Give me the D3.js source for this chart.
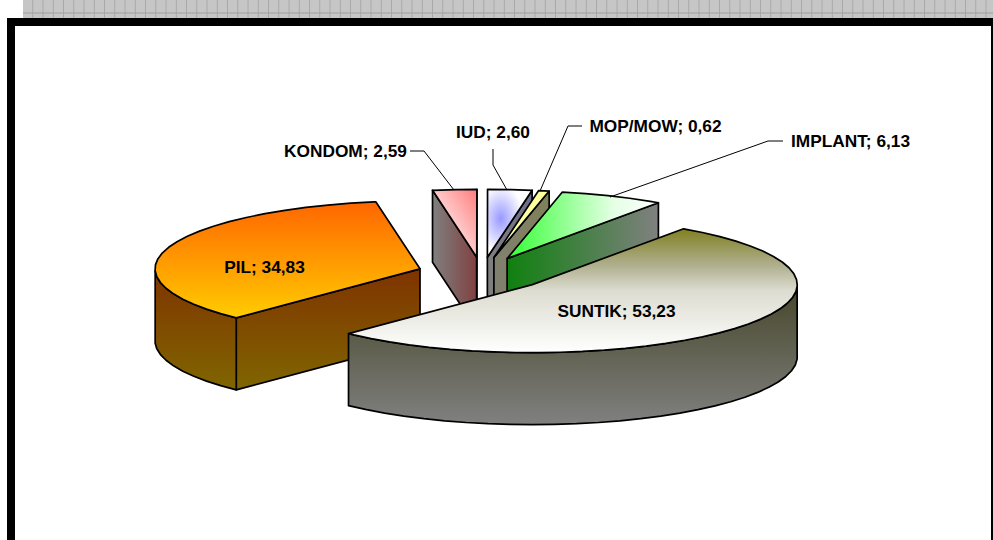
<!DOCTYPE html>
<html>
<head>
<meta charset="utf-8">
<script src="https://cdn.jsdelivr.net/npm/d3@7"></script>
<style>
    body { margin: 0; background: #fff; }
    svg { display: block; }
    text { font-family: "Liberation Sans", Arial, sans-serif; font-weight: bold; font-size: 17.3px; fill: #000; }
</style>
</head>
<body>
<svg id="chart" width="993" height="540"></svg>
<script>
// data
const categories = ['SUNTIK', 'PIL', 'KONDOM', 'IUD', 'MOP/MOW', 'IMPLANT'];
const values = [53.23, 34.83, 2.59, 2.60, 0.62, 6.13];

// label placement and leaders, same order as categories
const labelX = [616.5, 264.5, 345.5, 493, 655.5, 850.5];
const labelY = [317, 273, 157, 138, 132, 147];
const leaders = [
    null,
    null,
    [[410, 151], [424, 151], [454, 190]],
    [[493, 149], [493, 165], [507, 190]],
    [[582, 126], [568, 126], [540, 191]],
    [[783, 141], [768, 141], [610, 197]]
];

// top gradient, then side gradient, for every slice
const topFills = [
    { x1: 0, y1: 0, x2: 0, y2: 1, stops: [[0, '#808020'], [0.3, '#b0b090'], [0.5, '#dcdcd0'], [1, '#ffffff']] },
    { x1: 0, y1: 0, x2: 0, y2: 1, stops: [[0, '#ff6600'], [1, '#ffcc00']] },
    { x1: 1, y1: 0, x2: 0, y2: 1, stops: [[0, '#ff7d7d'], [0.85, '#ffffff']] },
    { radial: true, cx: 0.3, cy: 0.43, r: 0.5, stops: [[0, '#9999ff'], [1, '#ffffff']] },
    { x1: 1, y1: 0, x2: 0, y2: 1, stops: [[0, '#ffff99'], [0.6, '#ffffa8'], [1, '#ffffff']] },
    { x1: 0, y1: 0, x2: 1, y2: 0, stops: [[0, '#33ff33'], [0.7, '#e4ffe4'], [1, '#ffffff']] }
];
const sideFills = [
    { vertical: true, from: '#47472b', to: '#808080' },
    { vertical: true, from: '#7f3300', to: '#7f6600' },
    { vertical: false, from: '#808080', to: '#804040' },
    { vertical: false, from: '#808080', to: '#6c6c8c' },
    { vertical: false, from: '#808070', to: '#80805a' },
    { vertical: false, from: '#0f800f', to: '#808080' }
];

// pie geometry
const width = 993;
const height = 540;
const cx = 482, cy = 274;
const rx = 265, ry = 68;
const depth = 72;
const explode = 0.246;
const startDeg = 33.7;
const rimStep = 5 * Math.PI / 180;
// the 3D view squeezes the angles a little towards the sides
const squeeze = 2 * Math.PI / 180;

const svg = d3.select('#chart');
const defs = svg.append('defs');

// frame and the grey strip on top
const strip = defs.append('pattern')
    .attr('id', 'strip')
    .attr('patternUnits', 'userSpaceOnUse')
    .attr('x', 23).attr('y', 0)
    .attr('width', 10.25).attr('height', 18);
strip.append('rect').attr('width', 10.25).attr('height', 18).attr('fill', '#c6c6c6');
strip.append('rect').attr('x', 9.5).attr('width', 1).attr('height', 18).attr('fill', '#a0a0a0');
strip.append('rect').attr('y', 12.5).attr('width', 10.25).attr('height', 1).attr('fill', '#a0a0a0');

svg.append('rect').attr('x', 23).attr('y', 0).attr('width', width - 23).attr('height', 18).attr('fill', 'url(#strip)');
svg.append('rect').attr('x', 7).attr('y', 18).attr('width', width - 7).attr('height', 8).attr('fill', '#000');
svg.append('rect').attr('x', 7).attr('y', 18).attr('width', 8).attr('height', height - 18).attr('fill', '#000');
svg.append('rect').attr('x', 991).attr('y', 18).attr('width', 2).attr('height', height - 18).attr('fill', '#000');

const xScale = d3.scaleLinear().domain([-1, 1]).range([cx - rx, cx + rx]);
const yScale = d3.scaleLinear().domain([-1, 1]).range([cy + ry, cy - ry]);

const start = startDeg * Math.PI / 180;
const pie = d3.pie()
    .sort(null)
    .startAngle(start)
    .endAngle(start + 2 * Math.PI);

const slices = pie(values).map((d, i) => {
    const mid = (d.startAngle + d.endAngle) / 2;
    return {
        index: i,
        a0: d.startAngle,
        a1: d.endAngle,
        mid: mid,
        ox: explode * Math.sin(mid),
        oy: explode * Math.cos(mid)
    };
});

function point(s, angle, radius, drop) {
    const seen = angle + squeeze * Math.sin(angle);
    return [
        xScale(s.ox + radius * Math.sin(seen)),
        yScale(s.oy + radius * Math.cos(seen)) + drop
    ];
}

function rimAngles(a0, a1) {
    const out = d3.range(a0, a1, rimStep);
    out.push(a1);
    return out;
}

const line = d3.line().curve(d3.curveLinearClosed);

function addTopGradient(s) {
    const f = topFills[s.index];
    const grad = f.radial
        ? defs.append('radialGradient').attr('cx', f.cx).attr('cy', f.cy).attr('r', f.r)
        : defs.append('linearGradient').attr('x1', f.x1).attr('y1', f.y1).attr('x2', f.x2).attr('y2', f.y2);
    grad.attr('id', 'top' + s.index);
    f.stops.forEach(st => grad.append('stop').attr('offset', st[0]).attr('stop-color', st[1]));
}

function addSideGradient(s, polys) {
    const f = sideFills[s.index];
    const pts = polys.flat();
    const xs = d3.extent(pts, p => p[0]);
    const ys = d3.extent(pts, p => p[1]);
    const grad = defs.append('linearGradient')
        .attr('id', 'side' + s.index)
        .attr('gradientUnits', 'userSpaceOnUse')
        .attr('x1', xs[0]).attr('y1', ys[0])
        .attr('x2', f.vertical ? xs[0] : xs[1])
        .attr('y2', f.vertical ? ys[1] : ys[0]);
    grad.append('stop').attr('offset', 0).attr('stop-color', f.from);
    grad.append('stop').attr('offset', 1).attr('stop-color', f.to);
}

// back slices first, the front ones paint over them
const drawOrder = slices.slice().sort((a, b) => b.oy - a.oy);

drawOrder.forEach(s => {
    const g = svg.append('g');
    const polys = [];

    // cut faces, only those turned towards the viewer
    [[s.a0, -1], [s.a1, 1]].forEach(([a, side]) => {
        const facesFront = side * Math.sin(a) > 0;
        if (facesFront) {
            polys.push([
                point(s, a, 0, 0), point(s, a, 1, 0),
                point(s, a, 1, depth), point(s, a, 0, depth)
            ]);
        }
    });

    // outer wall, the part of the rim on the near half
    const wa0 = Math.max(s.a0, Math.PI / 2);
    const wa1 = Math.min(s.a1, 3 * Math.PI / 2);
    if (wa1 > wa0) {
        const angles = rimAngles(wa0, wa1);
        polys.push(
            angles.map(a => point(s, a, 1, 0))
                .concat(angles.slice().reverse().map(a => point(s, a, 1, depth)))
        );
    }

    addSideGradient(s, polys);
    addTopGradient(s);

    polys.forEach(p => {
        g.append('path')
            .attr('d', line(p))
            .attr('fill', `url(#side${s.index})`)
            .attr('stroke', '#000')
            .attr('stroke-width', 1.7)
            .attr('stroke-linejoin', 'round');
    });

    const topPoly = [point(s, 0, 0, 0)].concat(rimAngles(s.a0, s.a1).map(a => point(s, a, 1, 0)));
    g.append('path')
        .attr('d', line(topPoly))
        .attr('fill', `url(#top${s.index})`)
        .attr('stroke', '#000')
        .attr('stroke-width', 1.7)
        .attr('stroke-linejoin', 'round');
});

// leaders
const leaderLine = d3.line();
leaders.forEach(l => {
    if (l) {
        svg.append('path')
            .attr('d', leaderLine(l))
            .attr('fill', 'none')
            .attr('stroke', '#000')
            .attr('stroke-width', 1);
    }
});

// labels like "PIL; 34,83"
svg.selectAll('text.label')
    .data(categories)
    .enter()
    .append('text')
    .attr('class', 'label')
    .attr('x', (_, i) => labelX[i])
    .attr('y', (_, i) => labelY[i])
    .attr('text-anchor', 'middle')
    .text((d, i) => d + '; ' + values[i].toFixed(2).replace('.', ','));
</script>
</body>
</html>
